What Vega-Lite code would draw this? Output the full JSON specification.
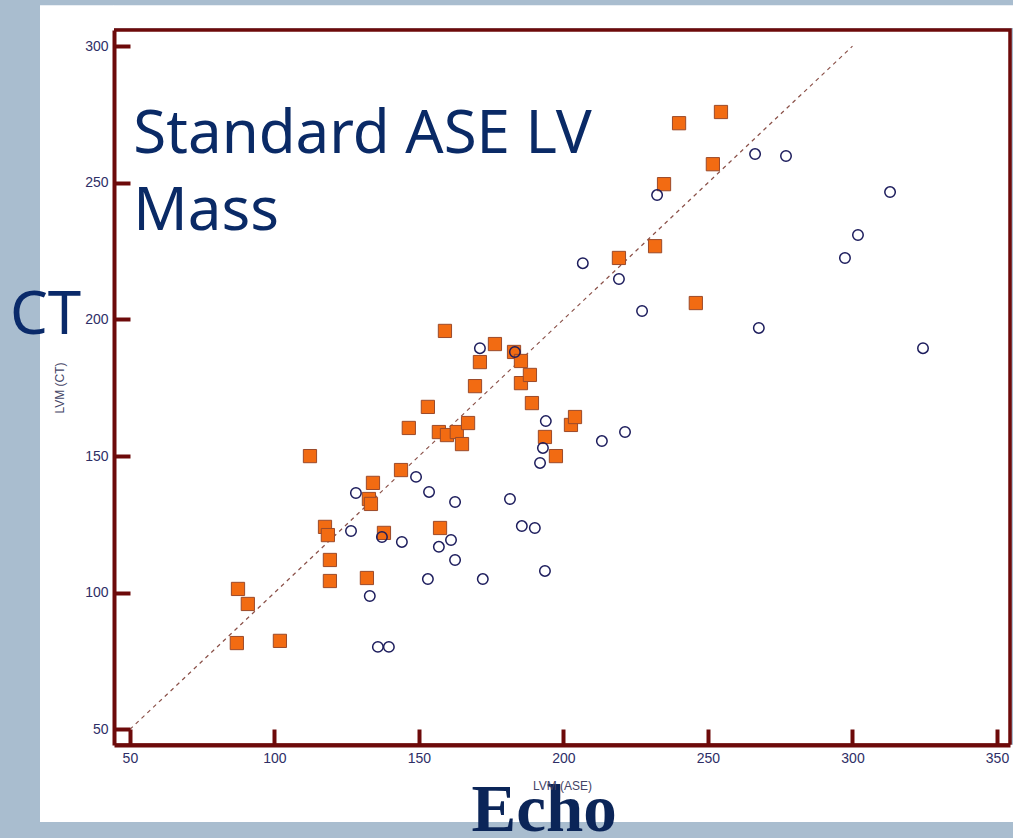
{
  "$schema": "https://vega.github.io/schema/vega-lite/v6.json",
  "width": 896,
  "height": 715,
  "autosize": {"type": "none"},
  "padding": {"left": 114, "top": 30, "right": 3, "bottom": 93},
  "background": "#a9bdcf",
  "config": {
    "view": {"fill": "white", "stroke": "#6d0a0a", "strokeWidth": 3.5},
    "axis": {
      "zindex": 1,
      "grid": false,
      "domainColor": "#6d0a0a",
      "domainWidth": 4,
      "tickColor": "#6d0a0a",
      "tickWidth": 4,
      "tickSize": -16,
      "tickCap": "butt",
      "labelFont": "Liberation Sans Narrow, Liberation Sans",
      "labelFontSize": 14,
      "labelColor": "#2e2e66",
      "titleFont": "Liberation Sans",
      "titleFontSize": 12,
      "titleFontWeight": "normal",
      "titleColor": "#444466"
    }
  },
  "datasets": {
    "pts": [
      {"grp": "sq", "ase": 87.4, "ct": 101.4},
      {"grp": "sq", "ase": 90.8, "ct": 95.9},
      {"grp": "sq", "ase": 87.0, "ct": 81.6},
      {"grp": "sq", "ase": 101.9, "ct": 82.4},
      {"grp": "sq", "ase": 112.3, "ct": 150.0},
      {"grp": "sq", "ase": 117.5, "ct": 124.1},
      {"grp": "sq", "ase": 118.5, "ct": 121.1},
      {"grp": "sq", "ase": 119.2, "ct": 112.0},
      {"grp": "sq", "ase": 119.2, "ct": 104.3},
      {"grp": "sq", "ase": 132.0, "ct": 105.4},
      {"grp": "sq", "ase": 132.7, "ct": 134.3},
      {"grp": "sq", "ase": 133.4, "ct": 132.5},
      {"grp": "sq", "ase": 134.1, "ct": 140.2},
      {"grp": "sq", "ase": 137.9, "ct": 121.9},
      {"grp": "sq", "ase": 143.8, "ct": 144.9},
      {"grp": "sq", "ase": 146.5, "ct": 160.3},
      {"grp": "sq", "ase": 153.1, "ct": 168.0},
      {"grp": "sq", "ase": 156.9, "ct": 158.8},
      {"grp": "sq", "ase": 157.3, "ct": 123.7},
      {"grp": "sq", "ase": 159.0, "ct": 195.8},
      {"grp": "sq", "ase": 159.7, "ct": 157.7},
      {"grp": "sq", "ase": 163.1, "ct": 158.8},
      {"grp": "sq", "ase": 164.9, "ct": 154.4},
      {"grp": "sq", "ase": 167.0, "ct": 162.1},
      {"grp": "sq", "ase": 169.4, "ct": 175.6},
      {"grp": "sq", "ase": 171.1, "ct": 184.4},
      {"grp": "sq", "ase": 176.3, "ct": 191.0},
      {"grp": "sq", "ase": 182.9, "ct": 188.1},
      {"grp": "sq", "ase": 185.3, "ct": 184.8},
      {"grp": "sq", "ase": 185.3, "ct": 176.7},
      {"grp": "sq", "ase": 188.4, "ct": 179.7},
      {"grp": "sq", "ase": 189.1, "ct": 169.4},
      {"grp": "sq", "ase": 193.6, "ct": 157.0},
      {"grp": "sq", "ase": 197.4, "ct": 150.0},
      {"grp": "sq", "ase": 202.6, "ct": 161.4},
      {"grp": "sq", "ase": 204.0, "ct": 164.3},
      {"grp": "sq", "ase": 219.2, "ct": 222.5},
      {"grp": "sq", "ase": 231.7, "ct": 226.8},
      {"grp": "sq", "ase": 234.8, "ct": 249.5},
      {"grp": "sq", "ase": 240.0, "ct": 271.8},
      {"grp": "sq", "ase": 245.8, "ct": 206.0},
      {"grp": "sq", "ase": 251.7, "ct": 256.8},
      {"grp": "sq", "ase": 254.5, "ct": 275.9},
      {"grp": "ci", "ase": 266.3, "ct": 260.5},
      {"grp": "ci", "ase": 277.0, "ct": 259.8},
      {"grp": "ci", "ase": 232.4, "ct": 245.5},
      {"grp": "ci", "ase": 313.0, "ct": 246.6},
      {"grp": "ci", "ase": 301.9, "ct": 230.9},
      {"grp": "ci", "ase": 297.4, "ct": 222.5},
      {"grp": "ci", "ase": 219.2, "ct": 214.8},
      {"grp": "ci", "ase": 206.7, "ct": 220.6},
      {"grp": "ci", "ase": 227.2, "ct": 203.1},
      {"grp": "ci", "ase": 267.6, "ct": 196.9},
      {"grp": "ci", "ase": 324.4, "ct": 189.5},
      {"grp": "ci", "ase": 171.1, "ct": 189.5},
      {"grp": "ci", "ase": 183.2, "ct": 188.1},
      {"grp": "ci", "ase": 193.9, "ct": 162.8},
      {"grp": "ci", "ase": 192.9, "ct": 153.0},
      {"grp": "ci", "ase": 191.9, "ct": 147.5},
      {"grp": "ci", "ase": 213.3, "ct": 155.5},
      {"grp": "ci", "ase": 221.3, "ct": 158.8},
      {"grp": "ci", "ase": 149.0, "ct": 142.4},
      {"grp": "ci", "ase": 153.5, "ct": 136.9},
      {"grp": "ci", "ase": 162.5, "ct": 133.2},
      {"grp": "ci", "ase": 181.5, "ct": 134.3},
      {"grp": "ci", "ase": 185.6, "ct": 124.4},
      {"grp": "ci", "ase": 190.1, "ct": 123.7},
      {"grp": "ci", "ase": 137.2, "ct": 120.4},
      {"grp": "ci", "ase": 144.1, "ct": 118.6},
      {"grp": "ci", "ase": 161.1, "ct": 119.3},
      {"grp": "ci", "ase": 156.9, "ct": 116.8},
      {"grp": "ci", "ase": 128.2, "ct": 136.5},
      {"grp": "ci", "ase": 126.5, "ct": 122.6},
      {"grp": "ci", "ase": 162.5, "ct": 112.0},
      {"grp": "ci", "ase": 153.1, "ct": 105.0},
      {"grp": "ci", "ase": 172.1, "ct": 105.0},
      {"grp": "ci", "ase": 133.0, "ct": 98.8},
      {"grp": "ci", "ase": 135.8, "ct": 80.2},
      {"grp": "ci", "ase": 139.6, "ct": 80.2},
      {"grp": "ci", "ase": 193.6, "ct": 108.0}
    ],
    "ident": [
      {"ase": 50, "ct": 50},
      {"ase": 300, "ct": 300}
    ],
    "one": [{"k": 1}]
  },
  "layer": [
    {
      "data": {"name": "one"},
      "mark": {"type": "rect", "fill": "white", "clip": false},
      "encoding": {
        "x": {"datum": 18.9, "type": "quantitative", "scale": {"domain": [44.5, 354.5], "nice": false, "zero": false}, "axis": {"zindex": 2, "values": [50, 100, 150, 200, 250, 300, 350], "labelPadding": 22, "title": "LVM (ASE)", "titlePadding": 15}},
        "x2": {"datum": 44.5},
        "y": {"datum": 16.1, "type": "quantitative", "scale": {"domain": [44.3, 305.9], "nice": false, "zero": false}, "axis": {"zindex": 2, "values": [50, 100, 150, 200, 250, 300], "labelPadding": 22, "title": "LVM (CT)", "titlePadding": 18}},
        "y2": {"datum": 315}
      }
    },
    {
      "data": {"name": "one"},
      "mark": {"type": "rect", "fill": "white", "clip": false},
      "encoding": {
        "x": {"datum": 44.4, "type": "quantitative"},
        "x2": {"datum": 360},
        "y": {"datum": 16.1, "type": "quantitative"},
        "y2": {"datum": 44.4}
      }
    },
    {
      "data": {"name": "one"},
      "mark": {"type": "rect", "fill": "white", "clip": false},
      "encoding": {
        "x": {"datum": 44.4, "type": "quantitative"},
        "x2": {"datum": 360},
        "y": {"datum": 306.6, "type": "quantitative"},
        "y2": {"datum": 315}
      }
    },
    {
      "data": {"name": "ident"},
      "mark": {"type": "line", "color": "#8a5048", "strokeWidth": 1.2, "strokeDash": [4, 4]},
      "encoding": {
        "x": {"field": "ase", "type": "quantitative"},
        "y": {"field": "ct", "type": "quantitative"}
      }
    },
    {
      "data": {"name": "pts"},
      "transform": [{"filter": "datum.grp == 'sq'"}],
      "mark": {"type": "point", "shape": "square", "filled": true, "fill": "#f26b12", "stroke": "#9b4a2a", "strokeWidth": 1, "size": 175, "opacity": 1},
      "encoding": {
        "x": {"field": "ase", "type": "quantitative"},
        "y": {"field": "ct", "type": "quantitative"}
      }
    },
    {
      "data": {"name": "pts"},
      "transform": [{"filter": "datum.grp == 'ci'"}],
      "mark": {"type": "point", "shape": "circle", "filled": false, "stroke": "#1c1c5c", "strokeWidth": 1.5, "size": 110, "opacity": 1},
      "encoding": {
        "x": {"field": "ase", "type": "quantitative"},
        "y": {"field": "ct", "type": "quantitative"}
      }
    },
    {
      "data": {"name": "one"},
      "mark": {"type": "text", "align": "left", "baseline": "alphabetic", "font": "Noto Sans", "fontSize": 60, "color": "#0a2a66", "lineHeight": 77},
      "encoding": {
        "x": {"datum": 51.2, "type": "quantitative"},
        "y": {"datum": 261.0, "type": "quantitative"},
        "text": {"value": ["Standard ASE LV", "Mass"]}
      }
    },
    {
      "data": {"name": "one"},
      "mark": {"type": "text", "align": "left", "baseline": "alphabetic", "font": "Noto Sans", "fontSize": 60, "color": "#0a2a6a"},
      "encoding": {
        "x": {"datum": 8.5, "type": "quantitative"},
        "y": {"datum": 194.7, "type": "quantitative"},
        "text": {"value": "CT"}
      }
    },
    {
      "data": {"name": "one"},
      "mark": {"type": "text", "align": "center", "baseline": "alphabetic", "font": "Liberation Serif", "fontWeight": "bold", "fontSize": 67, "color": "#0b2558"},
      "encoding": {
        "x": {"datum": 193.3, "type": "quantitative"},
        "y": {"datum": 12.8, "type": "quantitative"},
        "text": {"value": "Echo"}
      }
    }
  ]
}
